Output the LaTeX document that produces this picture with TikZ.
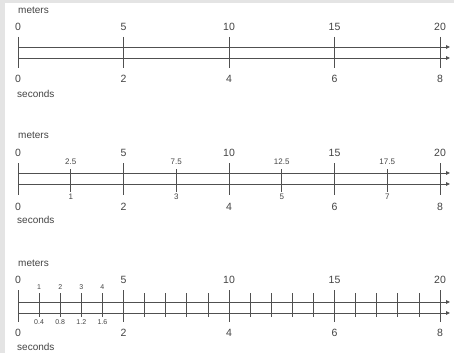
\documentclass[tikz,border=0pt]{standalone}
\usepackage{fontspec}
\setmainfont{Liberation Sans}
\usetikzlibrary{arrows.meta}
\definecolor{ink}{HTML}{505050}
\definecolor{txt}{HTML}{444444}
\definecolor{framegray}{HTML}{E4E4E4}
\begin{document}
\begin{tikzpicture}[x=1pt,y=-1pt,
  axisline/.style={draw=ink, line width=0.8pt, -{Triangle[length=4pt,width=3.5pt]}},
  tickline/.style={draw=ink, line width=0.8pt},
  lbl/.style={text=txt, font=\fontsize{10.5}{12}\selectfont, inner sep=0pt},
  word/.style={text=txt, font=\fontsize{10}{12}\selectfont, inner sep=0pt, anchor=west},
  halflbl/.style={text=txt, font=\fontsize{8}{9}\selectfont, inner sep=0pt},
  smalllbl/.style={text=txt, font=\fontsize{7}{8}\selectfont, inner sep=0pt}]
\useasboundingbox (0,0) rectangle (454,353);
\fill[framegray] (0,0) rectangle (454,353);
\fill[white] (5,3) rectangle (454,353);

% ---------------- panel 1 ----------------
\node[word] (w1m) at (18,10) {meters};
\node[word] (w1s) at (17,94) {seconds};
\coordinate (p1as) at (18,47); \coordinate (p1ae) at (450,47);
\coordinate (p1bs) at (18,58); \coordinate (p1be) at (450,58);
\draw[axisline] (p1as) -- (p1ae);
\draw[axisline] (p1bs) -- (p1be);
\foreach \m/\s [count=\i] in {0/0,5/2,10/4,15/6,20/8}{
  \pgfmathsetmacro\xx{18+\m*21.1}
  \draw[tickline] (\xx,37) -- (\xx,68);
  \node[lbl] (p1m\i) at (\xx,27) {\m};
  \node[lbl] (p1s\i) at (\xx,79) {\s};
}

% ---------------- panel 2 ----------------
\node[word] (w2m) at (18,135) {meters};
\node[word] (w2s) at (17,220) {seconds};
\coordinate (p2as) at (18,173); \coordinate (p2ae) at (450,173);
\coordinate (p2bs) at (18,184); \coordinate (p2be) at (450,184);
\draw[axisline] (p2as) -- (p2ae);
\draw[axisline] (p2bs) -- (p2be);
\foreach \m/\s [count=\i] in {0/0,5/2,10/4,15/6,20/8}{
  \pgfmathsetmacro\xx{18+\m*21.1}
  \draw[tickline] (\xx,163) -- (\xx,195);
  \node[lbl] (p2m\i) at (\xx,153) {\m};
  \node[lbl] (p2s\i) at (\xx,207) {\s};
}
\foreach \m/\s [count=\i] in {2.5/1,7.5/3,12.5/5,17.5/7}{
  \pgfmathsetmacro\xx{18+\m*21.1}
  \draw[tickline] (\xx,169) -- (\xx,192);
  \node[halflbl] (p2h\i) at (\xx,162) {\m};
  \node[halflbl] (p2t\i) at (\xx,197) {\s};
}

% ---------------- panel 3 ----------------
\node[word] (w3m) at (18,263) {meters};
\node[word] (w3s) at (17,347) {seconds};
\coordinate (p3as) at (18,302); \coordinate (p3ae) at (450,302);
\coordinate (p3bs) at (18,313); \coordinate (p3be) at (450,313);
\draw[axisline] (p3as) -- (p3ae);
\draw[axisline] (p3bs) -- (p3be);
\foreach \m/\s [count=\i] in {0/0,5/2,10/4,15/6,20/8}{
  \pgfmathsetmacro\xx{18+\m*21.1}
  \draw[tickline] (\xx,290) -- (\xx,322);
  \node[lbl] (p3m\i) at (\xx,280) {\m};
  \node[lbl] (p3s\i) at (\xx,333) {\s};
}
\foreach \m in {1,2,3,4,6,7,8,9,11,12,13,14,16,17,18,19}{
  \pgfmathsetmacro\xx{18+\m*21.1}
  \draw[tickline] (\xx,293) -- (\xx,317);
}
\foreach \m/\s [count=\i] in {1/0.4,2/0.8,3/1.2,4/1.6}{
  \pgfmathsetmacro\xx{18+\m*21.1}
  \node[smalllbl] (p3h\i) at (\xx,287) {\m};
  \node[smalllbl] (p3t\i) at (\xx,322) {\s};
}
\end{tikzpicture}
\end{document}
